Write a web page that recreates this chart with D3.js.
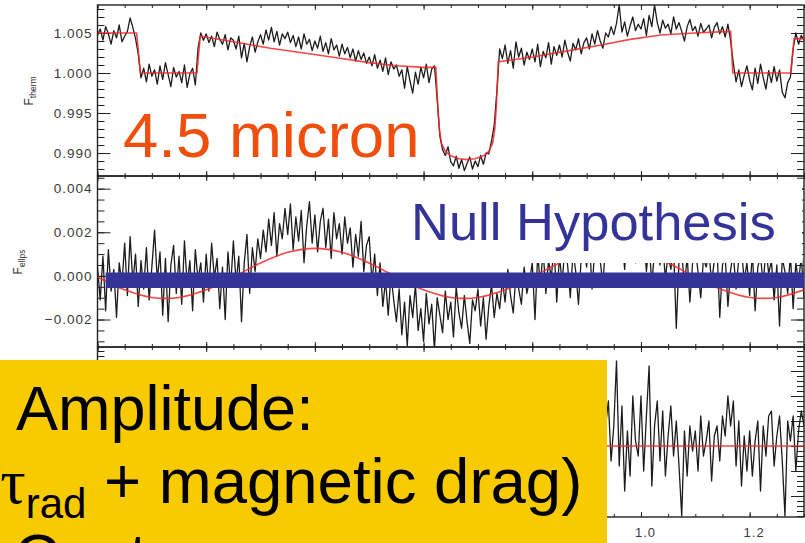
<!DOCTYPE html>
<html><head><meta charset="utf-8">
<script src="https://cdn.jsdelivr.net/npm/d3@7"></script>
<style>
html,body{margin:0;padding:0;background:#fff;overflow:hidden}
svg{display:block}
</style></head><body>
<svg id="chart" width="805" height="543"></svg>
<script>
// ---------------- DATA ----------------
const phase = [
0,0.005,0.01,0.015,0.02,0.025,0.03,0.035,0.04,0.045,
0.05,0.055,0.06,0.065,0.07,0.075,0.08,0.085,0.09,0.095,
0.1,0.105,0.11,0.115,0.12,0.125,0.13,0.135,0.14,0.145,
0.15,0.155,0.16,0.165,0.17,0.175,0.18,0.185,0.19,0.195,
0.2,0.205,0.21,0.215,0.22,0.225,0.23,0.235,0.24,0.245,
0.25,0.255,0.26,0.265,0.27,0.275,0.28,0.285,0.29,0.295,
0.3,0.305,0.31,0.315,0.32,0.325,0.33,0.335,0.34,0.345,
0.35,0.355,0.36,0.365,0.37,0.375,0.38,0.385,0.39,0.395,
0.4,0.405,0.41,0.415,0.42,0.425,0.43,0.435,0.44,0.445,
0.45,0.455,0.46,0.465,0.47,0.475,0.48,0.485,0.49,0.495,
0.5,0.505,0.51,0.515,0.52,0.525,0.53,0.535,0.54,0.545,
0.55,0.555,0.56,0.565,0.57,0.575,0.58,0.585,0.59,0.595,
0.6,0.605,0.61,0.615,0.62,0.625,0.63,0.635,0.64,0.645,
0.65,0.655,0.66,0.665,0.67,0.675,0.68,0.685,0.69,0.695,
0.7,0.705,0.71,0.715,0.72,0.725,0.73,0.735,0.74,0.745,
0.75,0.755,0.76,0.765,0.77,0.775,0.78,0.785,0.79,0.795,
0.8,0.805,0.81,0.815,0.82,0.825,0.83,0.835,0.84,0.845,
0.85,0.855,0.86,0.865,0.87,0.875,0.88,0.885,0.89,0.895,
0.9,0.905,0.91,0.915,0.92,0.925,0.93,0.935,0.94,0.945,
0.95,0.955,0.96,0.965,0.97,0.975,0.98,0.985,0.99,0.995,
1.0,1.005,1.01,1.015,1.02,1.025,1.03,1.035,1.04,1.045,
1.05,1.055,1.06,1.065,1.07,1.075,1.08,1.085,1.09,1.095,
1.1,1.105,1.11,1.115,1.12,1.125,1.13,1.135,1.14,1.145,
1.15,1.155,1.16,1.165,1.17,1.175,1.18,1.185,1.19,1.195,
1.2,1.205,1.21,1.215,1.22,1.225,1.23,1.235,1.24,1.245,
1.25,1.255,1.26,1.265,1.27,1.275,1.28,1.285,1.29,1.295,
1.3];

const thermFlux = [
1.0047,1.0055,1.0041,1.0058,1.0049,1.0036,1.0053,1.0044,1.0060,1.0039,
1.0046,1.0052,1.0069,1.0057,1.0043,1.0024,0.9994,1.0006,0.9989,1.0011,
0.9996,1.0004,0.9986,1.0009,0.9992,1.0013,0.9998,0.9983,1.0007,0.9995,
1.0002,0.9988,1.0010,0.9982,0.9999,1.0006,0.9985,1.0031,1.0050,1.0041,
1.0049,1.0038,1.0046,1.0033,1.0051,1.0042,1.0036,1.0048,1.0029,1.0044,
1.0041,1.0030,1.0046,1.0019,1.0037,1.0014,1.0033,1.0045,1.0026,1.0039,
1.0048,1.0036,1.0054,1.0041,1.0057,1.0039,1.0052,1.0035,1.0049,1.0043,
1.0051,1.0038,1.0047,1.0033,1.0045,1.0030,1.0049,1.0036,1.0042,1.0028,
1.0040,1.0031,1.0046,1.0027,1.0038,1.0024,1.0043,1.0029,1.0035,1.0021,
1.0036,1.0024,1.0032,1.0019,1.0030,1.0015,1.0028,1.0017,1.0025,1.0012,
1.0020,1.0009,1.0023,1.0006,1.0016,1.0002,1.0019,0.9998,1.0014,1.0005,
1.0010,0.9996,1.0004,0.9981,1.0008,0.9990,0.9975,1.0001,0.9986,1.0007,
0.9994,1.0011,0.9988,1.0005,1.0009,0.9968,0.9921,0.9904,0.9897,0.9908,
0.9889,0.9884,0.9896,0.9881,0.9892,0.9878,0.9887,0.9895,0.9880,0.9890,
0.9883,0.9897,0.9886,0.9900,0.9899,0.9915,0.9935,0.9978,1.0030,1.0018,
1.0035,1.0012,1.0028,1.0006,1.0039,1.0020,1.0031,1.0010,1.0026,1.0017,
1.0030,1.0014,1.0036,1.0008,1.0027,1.0019,1.0038,1.0011,1.0033,1.0022,
1.0035,1.0020,1.0041,1.0026,1.0015,1.0037,1.0029,1.0043,1.0024,1.0038,
1.0044,1.0030,1.0049,1.0036,1.0053,1.0040,1.0031,1.0050,1.0045,1.0058,
1.0048,1.0062,1.0085,1.0051,1.0064,1.0046,1.0059,1.0070,1.0053,1.0061,
1.0055,1.0068,1.0047,1.0072,1.0058,1.0085,1.0063,1.0050,1.0066,1.0056,
1.0061,1.0049,1.0070,1.0055,1.0063,1.0052,1.0040,1.0058,1.0067,1.0053,
1.0058,1.0046,1.0062,1.0051,1.0055,1.0060,1.0044,1.0057,1.0063,1.0049,
1.0058,1.0045,1.0061,1.0040,1.0012,0.9989,1.0004,0.9983,0.9997,1.0009,
0.9991,0.9979,1.0006,0.9987,1.0011,0.9994,0.9980,1.0003,0.9988,1.0008,
0.9990,1.0004,0.9976,0.9969,0.9988,0.9995,1.0030,1.0050,1.0036,1.0047,
1.0041];

const ellpsFlux = [
0.0004,-0.0011,0.0009,-0.0016,0.0012,-0.0007,0.0003,-0.0019,0.0006,-0.0004,
0.0015,-0.0009,0.0018,-0.0003,0.0010,-0.0014,0.0007,-0.0006,0.0013,-0.0011,
0.0004,0.0021,-0.0002,0.0011,-0.0018,0.0008,-0.0021,0.0005,0.0014,-0.0008,
0.0009,-0.0013,0.0016,-0.0004,0.0007,-0.0016,0.0012,-0.0002,0.0006,-0.0012,
0.0010,-0.0007,0.0015,-0.0001,0.0008,-0.0015,0.0004,-0.0020,0.0011,-0.0005,
0.0016,-0.0003,0.0009,-0.0021,0.0006,0.0019,-0.0008,0.0013,0.0002,0.0017,
0.0008,0.0021,0.0011,0.0026,0.0014,0.0029,0.0009,0.0024,0.0017,0.0031,
0.0019,0.0033,0.0012,0.0027,0.0016,0.0030,0.0006,0.0023,0.0034,0.0015,
0.0028,0.0011,0.0025,0.0031,0.0013,0.0026,0.0008,0.0029,0.0017,0.0024,
0.0010,0.0027,0.0015,0.0022,0.0004,0.0019,0.0009,0.0025,0.0002,0.0014,
0.0018,-0.0003,0.0010,-0.0009,0.0006,-0.0014,-0.0002,-0.0018,0.0001,-0.0011,
-0.0021,-0.0006,-0.0027,-0.0012,-0.0032,-0.0009,-0.0019,-0.0004,-0.0025,-0.0015,
-0.0030,-0.0008,-0.0022,-0.0013,-0.0034,-0.0010,-0.0018,-0.0026,-0.0007,-0.0020,
-0.0012,-0.0028,-0.0005,-0.0017,-0.0024,-0.0009,-0.0021,-0.0031,-0.0011,-0.0016,
-0.0006,-0.0023,-0.0010,-0.0029,-0.0014,-0.0004,-0.0019,-0.0008,-0.0015,-0.0002,
-0.0012,0.0003,-0.0009,-0.0017,0.0001,-0.0006,-0.0013,0.0004,-0.0008,-0.0002,
0.0006,-0.0020,0.0010,-0.0004,0.0012,-0.0008,0.0007,-0.0001,0.0014,-0.0012,
0.0009,-0.0003,0.0013,0.0005,-0.0010,0.0011,0.0002,-0.0013,0.0008,0.0015,
0.0004,0.0017,-0.0006,0.0012,0.0020,0.0007,-0.0004,0.0016,0.0010,0.0022,
0.0013,0.0026,0.0008,0.0019,0.0003,0.0021,0.0011,0.0024,0.0006,0.0017,
0.0009,0.0020,0.0002,0.0015,-0.0004,0.0012,0.0018,0.0005,0.0014,-0.0001,
0.0010,0.0003,0.0013,-0.0024,0.0007,0.0011,-0.0005,0.0009,-0.0012,0.0006,
0.0012,0.0002,-0.0010,0.0008,0.0004,0.0011,-0.0003,0.0007,0.0013,-0.0019,
0.0005,0.0009,-0.0014,0.0003,0.0010,-0.0006,0.0008,0.0012,-0.0002,0.0006,
-0.0009,0.0011,-0.0016,0.0004,0.0009,-0.0004,0.0013,0.0001,0.0007,-0.0011,
0.0005,-0.0023,0.0008,0.0002,-0.0008,0.0010,-0.0015,0.0006,-0.0003,0.0009,
-0.0010];

const residFlux = [
0.0003,-0.0005,0.0007,-0.0002,0.0004,-0.0008,0.0001,0.0006,-0.0004,0.0002,
-0.0006,0.0005,0.0009,-0.0003,0.0002,-0.0007,0.0004,-0.0001,0.0006,-0.0005,
0.0001,0.0008,-0.0004,0.0003,-0.0009,0.0005,-0.0002,0.0007,-0.0006,0.0002,
0.0004,-0.0003,0.0006,-0.0008,0.0001,0.0005,-0.0005,0.0003,0.0008,-0.0002,
0.0002,-0.0006,0.0005,0.0001,-0.0004,0.0007,-0.0007,0.0003,-0.0001,0.0006,
-0.0003,0.0004,-0.0009,0.0002,0.0006,-0.0005,0.0003,0.0009,-0.0002,0.0004,
-0.0006,0.0002,0.0007,-0.0004,0.0005,-0.0001,0.0008,-0.0007,0.0003,0.0001,
0.0006,-0.0005,0.0002,0.0009,-0.0003,0.0004,-0.0008,0.0005,0.0001,-0.0002,
0.0007,-0.0004,0.0003,-0.0006,0.0008,0.0002,-0.0005,0.0006,-0.0001,0.0004,
-0.0007,0.0005,0.0001,0.0008,-0.0003,0.0003,-0.0009,0.0004,0.0007,-0.0002,
0.0002,-0.0005,0.0006,0.0000,-0.0008,0.0005,-0.0002,0.0009,-0.0004,0.0003,
0.0005,-0.0006,0.0002,0.0007,-0.0003,0.0004,-0.0007,0.0001,0.0006,-0.0004,
0.0003,0.0008,-0.0005,0.0002,-0.0002,0.0006,-0.0008,0.0004,0.0001,-0.0006,
0.0007,-0.0001,0.0004,-0.0007,0.0005,0.0002,-0.0004,0.0008,-0.0003,0.0003,
-0.0005,0.0006,0.0001,-0.0009,0.0004,0.0007,-0.0002,0.0003,-0.0006,0.0005,
0.0002,-0.0004,0.0008,-0.0001,0.0005,-0.0007,0.0003,0.0006,-0.0003,0.0001,
0.0006,-0.0005,0.0002,0.0009,-0.0006,0.0004,0.0000,-0.0008,0.0005,0.0002,
-0.0003,0.0007,-0.0002,0.0004,-0.0007,0.0006,0.0001,-0.0004,0.0008,-0.0001,
0.0003,-0.0006,0.0005,0.0001,-0.0005,0.0007,-0.0002,0.0004,0.0009,-0.0003,
0.0004,0.0017,-0.0004,0.0008,-0.0009,0.0003,-0.0006,0.0010,0.0001,-0.0002,
0.0010,-0.0005,0.0006,0.0016,-0.0008,0.0004,0.0009,-0.0003,0.0007,-0.0006,
0.0002,0.0008,-0.0002,0.0005,-0.0004,-0.0014,0.0003,-0.0006,0.0004,-0.0001,
0.0003,-0.0005,0.0006,-0.0002,0.0001,0.0005,-0.0007,0.0002,0.0004,-0.0003,
0.0006,0.0002,0.0010,0.0004,0.0009,-0.0004,0.0005,-0.0008,0.0002,-0.0005,
0.0003,-0.0006,0.0001,0.0005,-0.0009,0.0004,-0.0002,0.0006,0.0007,-0.0004,
0.0002,0.0006,-0.0003,-0.0014,0.0005,0.0001,0.0006,-0.0005,0.0003,0.0007,
0.0004];

const thermModelPhase = [0,0.072,0.079,0.183,0.189,0.25,0.318,0.38,0.44,0.50,0.55,0.60,
0.6225,0.626,0.629,0.633,0.64,0.65,0.665,0.68,0.695,0.71,0.72,0.727,0.731,0.734,0.7375,
0.80,0.86,0.927,0.98,1.037,1.098,1.165,1.169,1.2756,1.2817,1.3];
const thermModel = [1.0050,1.0050,1.0000,1.0000,1.0046,1.0039,1.0031,1.0025,1.0019,1.0013,1.0009,1.0007,
1.0007,0.9960,0.9930,0.9912,0.9902,0.98965,0.98928,0.98918,0.98928,0.98965,0.9902,0.9912,0.9930,0.9960,1.0014,
1.0020,1.0027,1.0035,1.0042,1.00475,1.0050,1.0052,1.0000,1.0000,1.0043,1.0043];

const ellpsModelPhase = [0,0.05,0.1,0.15,0.2,0.25,0.3,0.35,0.4,0.45,0.5,0.55,0.6,0.65,
0.7,0.75,0.8,0.85,0.9,0.95,1.0,1.05,1.1,1.15,1.2,1.25,1.3];
const ellpsModel = [-0.00005,-0.00064,-0.00099,-0.00099,-0.00064,-0.00005,0.00059,0.00108,0.00126,0.00108,
0.00059,-0.00005,-0.00064,-0.00099,-0.00099,-0.00064,-0.00005,0.00059,0.00108,0.00126,0.00108,0.00059,
-0.00005,-0.00064,-0.00099,-0.00099,-0.00064];

const residModelPhase = [0, 1.3];
const residModel = [0, 0];

const nullPhase = [0.015, 1.3];
const nullLevel = [-0.0002, -0.0002];

const xTicks = [0, 0.2, 0.4, 0.6, 0.8, 1.0, 1.2];
const xTickLabels = ["0.0","0.2","0.4","0.6","0.8","1.0","1.2"];
const thermTicks = [0.990, 0.995, 1.000, 1.005];
const thermTickLabels = ["0.990","0.995","1.000","1.005"];
const ellpsTicks = [-0.002, 0, 0.002, 0.004];
const ellpsTickLabels = ["\u22120.002","0.000","0.002","0.004"];
const residTicks = [-0.001, -0.0005, 0, 0.0005, 0.001, 0.0015];

// ---------------- DRAW ----------------
const FONT = "'Liberation Sans', Arial, Helvetica, sans-serif";
const svg = d3.select("#chart");
const x = d3.scaleLinear().domain([0, 1.3]).range([97.5, 804]);
const yT = d3.scaleLinear().domain([0.98713, 1.0085]).range([176, 5]);
const yE = d3.scaleLinear().domain([-0.00326, 0.00458]).range([347, 176]);
const yR = d3.scaleLinear().domain([-0.00142, 0.00198]).range([517, 347]);
const xMinor = d3.range(0, 1.3001, 0.05);

function panel(name, y, major, labels, minor, showX) {
  const [yb, yt] = y.range();
  const [xl, xr] = x.range();
  const g = svg.append("g");
  svg.append("clipPath").attr("id", "clip-" + name).append("rect")
    .attr("x", xl).attr("y", yt).attr("width", xr - xl).attr("height", yb - yt);
  function ax(gen, tx, ty) {
    const a = g.append("g").attr("transform", `translate(${tx},${ty})`).call(gen);
    a.select(".domain").remove();
    a.attr("color", "#222").attr("font-family", FONT);
    a.selectAll("line").attr("stroke-width", 1);
    return a;
  }
  ax(d3.axisLeft(y).tickValues(minor).tickSize(-7).tickFormat(""), xl, 0);
  const left = ax(d3.axisLeft(y).tickValues(major).tickSize(-13).tickPadding(5)
      .tickFormat(labels ? (d => labels[major.indexOf(d)]) : ""), xl, 0);
  left.selectAll("text").attr("font-size", 13.5).attr("fill", "#3a3a3a").attr("letter-spacing", "1px");
  ax(d3.axisRight(y).tickValues(minor).tickSize(-7).tickFormat(""), xr, 0);
  ax(d3.axisRight(y).tickValues(major).tickSize(-13).tickFormat(""), xr, 0);
  ax(d3.axisTop(x).tickValues(xMinor).tickSize(-3).tickFormat(""), 0, yt);
  ax(d3.axisTop(x).tickValues(xTicks).tickSize(-5).tickFormat(""), 0, yt);
  ax(d3.axisBottom(x).tickValues(xMinor).tickSize(-3).tickFormat(""), 0, yb);
  const bot = ax(d3.axisBottom(x).tickValues(xTicks).tickSize(-5).tickPadding(11)
      .tickFormat(showX ? (d => xTickLabels[xTicks.indexOf(d)]) : ""), 0, yb);
  bot.selectAll("text").attr("font-size", 13).attr("fill", "#3a3a3a")
    .attr("letter-spacing", "1px").attr("dx", 4);
  g.append("rect").attr("x", xl).attr("y", yt).attr("width", xr - xl).attr("height", yb - yt)
    .attr("fill", "none").attr("stroke", "#222").attr("stroke-width", 1.4);
  return "url(#clip-" + name + ")";
}

const cT = panel("therm", yT, thermTicks, thermTickLabels, d3.range(0.988, 1.0086, 0.001), false);
const cE = panel("ellps", yE, ellpsTicks, ellpsTickLabels, d3.range(-0.003, 0.00451, 0.0005), false);
// left labels of the residual panel lie under the yellow box in the reference and are not drawn
const cR = panel("resid", yR, residTicks, null, d3.range(-0.0014, 0.00199, 0.0001), true);

function series(xs, ys, y, clip, color, width, curve, opacity) {
  const line = d3.line().x((d, i) => x(xs[i])).y((d, i) => y(ys[i])).curve(curve || d3.curveLinear);
  svg.append("path").attr("d", line(ys)).attr("clip-path", clip)
    .attr("fill", "none").attr("stroke", color).attr("stroke-width", width)
    .attr("stroke-linejoin", "round").attr("opacity", opacity == null ? 1 : opacity);
}

series(phase, thermFlux, yT, cT, "#1c1c1c", 1.3);
series(thermModelPhase, thermModel, yT, cT, "#f02828", 1.6, d3.curveLinear, 0.85);
series(phase, ellpsFlux, yE, cE, "#1c1c1c", 1.3);
series(ellpsModelPhase, ellpsModel, yE, cE, "#f02828", 1.6, d3.curveCatmullRom, 0.85);
series(phase, residFlux, yR, cR, "#1c1c1c", 1.3);
series(residModelPhase, residModel, yR, cR, "#f02828", 1.6, d3.curveLinear, 0.85);

// y axis titles
function ylab(px, py, main, sub) {
  const t = svg.append("text").attr("transform", `translate(${px},${py}) rotate(-90)`)
    .attr("text-anchor", "middle").attr("font-family", FONT).attr("fill", "#333");
  t.append("tspan").attr("font-size", 12).text(main);
  t.append("tspan").attr("font-size", 8.5).attr("dy", 3).text(sub);
}
ylab(33, 91, "F", "therm");
ylab(22, 262, "F", "ellps");

// ---------------- OVERLAYS ----------------
svg.append("text").attr("x", 123).attr("y", 156.7)
  .attr("font-family", FONT).attr("font-size", 63.5).attr("fill", "#f04e0c").text("4.5 micron");

svg.append("rect").attr("x", 394).attr("y", 188).attr("width", 408).attr("height", 75).attr("fill", "#fff");
svg.append("text").attr("x", 411).attr("y", 240)
  .attr("font-family", FONT).attr("font-size", 52.5).attr("fill", "#333399").text("Null Hypothesis");

series(nullPhase, nullLevel, yE, null, "#333399", 15.4);

svg.append("rect").attr("x", -5).attr("y", 360).attr("width", 612).attr("height", 190).attr("fill", "#f8ca00");
svg.append("text").attr("x", 16).attr("y", 430)
  .attr("font-family", FONT).attr("font-size", 63).attr("fill", "#000").text("Amplitude:");
const l2 = svg.append("text").attr("x", -21).attr("y", 503.3)
  .attr("font-family", FONT).attr("font-size", 63.5).attr("fill", "#000");
l2.append("tspan").text("(");
l2.append("tspan").attr("font-family", "'Liberation Serif', 'DejaVu Serif', serif").text("\u03c4");
l2.append("tspan").attr("font-size", 42).attr("dy", 15).text("rad");
l2.append("tspan").attr("dy", -15).text(" + magnetic drag)");
svg.append("text").attr("x", 14).attr("y", 578)
  .attr("font-family", FONT).attr("font-size", 63).attr("fill", "#000").text("Cont");
</script>
</body></html>
